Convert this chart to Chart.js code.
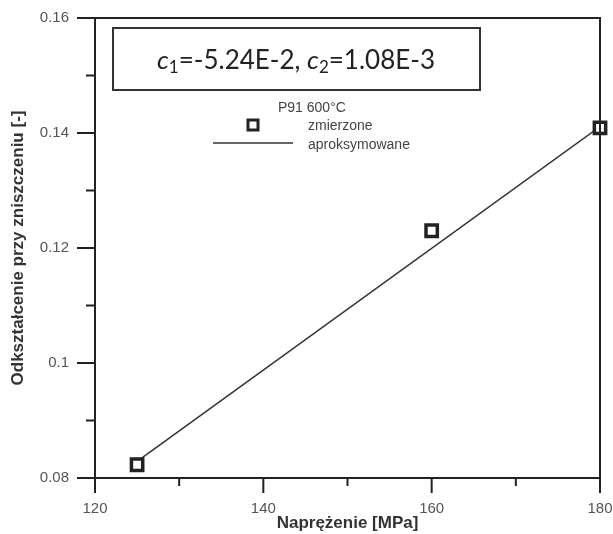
<!DOCTYPE html>
<html>
<head>
<meta charset="utf-8">
<script src="https://cdn.jsdelivr.net/npm/chart.js@4.4.1/dist/chart.umd.min.js"></script>
<style>
  html, body { margin: 0; padding: 0; background: #fff; }
  #wrap { width: 613px; height: 534px; }
</style>
</head>
<body>
<div id="wrap"><canvas id="chart1"></canvas></div>
<script>
const stress = [125, 160, 180];
const strain = [0.0823, 0.123, 0.1409];
const fitStress = [125, 180];
const fitStrain = [0.0829, 0.1411];

const xMajor = [120, 140, 160, 180];
const xMinor = [130, 150, 170];
const yMajor = [0.08, 0.1, 0.12, 0.14, 0.16];
const yMinor = [0.09, 0.11, 0.13, 0.15];
const yLabels = ['0.08', '0.1', '0.12', '0.14', '0.16'];

const seriesName = 'P91 600°C';
const pointsName = 'zmierzone';
const lineName = 'aproksymowane';

const axisColor = '#222';
const labelColor = '#555';

// draws the outward ticks, frame, coefficient box and the legend
const decorations = {
  id: 'decorations',
  afterDraw(chart) {
    const ctx = chart.ctx;
    const xs = chart.scales.x, ys = chart.scales.y;
    const a = chart.chartArea;
    ctx.save();
    ctx.strokeStyle = axisColor;
    ctx.lineWidth = 2;
    // frame
    ctx.beginPath();
    ctx.moveTo(a.left, a.bottom); ctx.lineTo(a.left, a.top); ctx.lineTo(a.right, a.top);
    ctx.lineTo(a.right, a.bottom); ctx.lineTo(a.left, a.bottom);
    ctx.stroke();
    // ticks
    ctx.beginPath();
    xMajor.forEach(v => { const p = xs.getPixelForValue(v); ctx.moveTo(p, a.bottom); ctx.lineTo(p, a.bottom + 15); });
    xMinor.forEach(v => { const p = xs.getPixelForValue(v); ctx.moveTo(p, a.bottom); ctx.lineTo(p, a.bottom + 8); });
    yMajor.forEach(v => { const p = ys.getPixelForValue(v); ctx.moveTo(a.left, p); ctx.lineTo(a.left - 18, p); });
    yMinor.forEach(v => { const p = ys.getPixelForValue(v); ctx.moveTo(a.left, p); ctx.lineTo(a.left - 9, p); });
    ctx.stroke();

    // coefficient box
    ctx.strokeStyle = '#333';
    ctx.strokeRect(113, 28, 367, 62);
    ctx.fillStyle = '#222';
    ctx.textBaseline = 'alphabetic';
    ctx.textAlign = 'left';
    const big = '26px Lato', bigIt = 'italic 26px Lato', sub = '17px Lato';
    const parts = [
      [bigIt, 'c', 0], [sub, '1', 4], [big, '=-5.24E-2, ', 0],
      [bigIt, 'c', 0], [sub, '2', 4], [big, '=1.08E-3', 0]
    ];
    let total = 0;
    parts.forEach(p => { ctx.font = p[0]; total += ctx.measureText(p[1]).width; });
    let x = 296 - total / 2;
    parts.forEach(p => { ctx.font = p[0]; ctx.fillText(p[1], x, 69 + p[2]); x += ctx.measureText(p[1]).width; });

    // legend
    ctx.font = '14px "Liberation Sans"';
    ctx.fillStyle = '#444';
    ctx.textBaseline = 'middle';
    ctx.fillText(seriesName, 278, 108);
    ctx.fillText(pointsName, 308, 126);
    ctx.fillText(lineName, 308, 145);
    ctx.lineWidth = 3;
    ctx.strokeStyle = '#222';
    ctx.fillStyle = '#fff';
    ctx.fillRect(248, 120, 10, 10);
    ctx.strokeRect(248, 120, 10, 10);
    ctx.lineWidth = 1.5;
    ctx.strokeStyle = '#333';
    ctx.beginPath(); ctx.moveTo(213, 143); ctx.lineTo(293, 143); ctx.stroke();
    ctx.restore();
  }
};

const chart1 = new Chart(document.getElementById('chart1'), {
  type: 'scatter',
  data: {
    datasets: [
      {
        label: lineName,
        data: fitStress.map((s, i) => ({ x: s, y: fitStrain[i] })),
        showLine: true,
        borderColor: '#333',
        borderWidth: 1.5,
        pointRadius: 0,
        order: 2
      },
      {
        label: pointsName,
        data: stress.map((s, i) => ({ x: s, y: strain[i] })),
        pointStyle: 'rect',
        pointRadius: 8,
        pointBorderWidth: 3.5,
        pointBorderColor: '#222',
        pointBackgroundColor: '#fff',
        clip: false,
        order: 1
      }
    ]
  },
  options: {
    responsive: true,
    maintainAspectRatio: false,
    animation: false,
    layout: { padding: { top: 18, right: 13, left: 0, bottom: 0 } },
    plugins: { legend: { display: false }, tooltip: { enabled: false } },
    scales: {
      x: {
        type: 'linear', min: 120, max: 180,
        grid: { display: false },
        border: { display: false },
        afterBuildTicks: s => { s.ticks = xMajor.map(v => ({ value: v })); },
        afterFit: s => { s.height = 56; s.paddingLeft = 0; s.paddingRight = 0; },
        ticks: {
          color: labelColor, padding: 14,
          font: { family: 'Liberation Sans', size: 15 },
          callback: v => String(v)
        },
        title: {
          display: true, text: 'Naprężenie [MPa]', color: '#333',
          font: { family: 'Liberation Sans', size: 17, weight: 'bold' },
          padding: { top: 0, bottom: 0 }
        }
      },
      y: {
        type: 'linear', min: 0.08, max: 0.16,
        grid: { display: false },
        border: { display: false },
        afterBuildTicks: s => { s.ticks = yMajor.map(v => ({ value: v })); },
        afterFit: s => { s.width = 95; s.paddingTop = 0; s.paddingBottom = 0; },
        ticks: {
          color: labelColor, padding: 18,
          font: { family: 'Liberation Sans', size: 15 },
          callback: (v, i) => yLabels[i]
        },
        title: {
          display: true, text: 'Odkształcenie przy zniszczeniu [-]', color: '#333',
          font: { family: 'Liberation Sans', size: 17, weight: 'bold' },
          padding: { top: 8, bottom: 0 }
        }
      }
    }
  },
  plugins: [decorations]
});
</script>
</body>
</html>
